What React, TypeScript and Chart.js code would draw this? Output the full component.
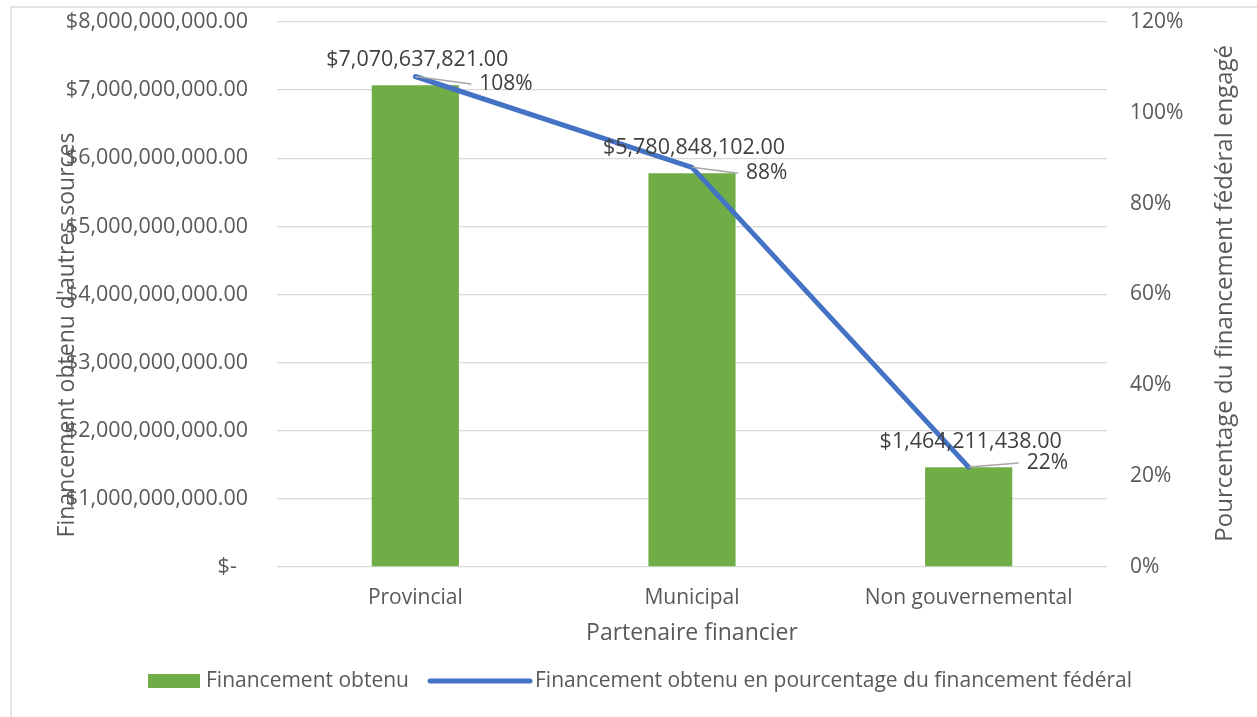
import { useEffect, useRef } from 'react';
import { Chart, registerables } from 'chart.js';

Chart.register(...registerables);

const categories = ['Provincial', 'Municipal', 'Non gouvernemental'];
const fundingObtained = [7070637821, 5780848102, 1464211438];
const fundingPctOfFederal = [108, 88, 22];
const seriesNames = [
  'Financement obtenu',
  'Financement obtenu en pourcentage du financement fédéral',
];
const leftAxisTitle = "Financement obtenu d'autres sources";
const rightAxisTitle = 'Pourcentage du financement fédéral engagé';
const xAxisTitle = 'Partenaire financier';

const FONT = "'Open Sans', sans-serif";
const AXIS_COLOR = '#595959';
const LABEL_COLOR = '#404040';
const GREEN = '#70AD47';
const BLUE = '#4472C4';

// label placement (style), per point: offset of the % label from the point
const PCT_OFFSETS: [number, number][] = [
  [64, 7.5],
  [54, 6],
  [58, -4],
];

const money = (v: number) =>
  '$' + v.toLocaleString('en-US', { minimumFractionDigits: 2, maximumFractionDigits: 2 });

const W = 1257;
const H = 717;
const AREA = { left: 277, right: 1107, top: 22, bottom: 567 };

const framePlugin = {
  id: 'frame',
  beforeDraw(chart: any) {
    const ctx = chart.ctx;
    ctx.save();
    ctx.fillStyle = '#ffffff';
    ctx.fillRect(0, 0, chart.width, chart.height);
    ctx.strokeStyle = '#d9d9d9';
    ctx.lineWidth = 1.5;
    ctx.beginPath();
    ctx.moveTo(11, chart.height);
    ctx.lineTo(11, 7);
    ctx.lineTo(chart.width, 7);
    ctx.stroke();
    ctx.restore();
  },
  afterDraw(chart: any) {
    const ctx = chart.ctx;
    const a = chart.chartArea;
    ctx.save();
    ctx.fillStyle = AXIS_COLOR;
    ctx.textAlign = 'center';
    ctx.textBaseline = 'middle';
    ctx.font = `23px ${FONT}`;
    ctx.fillText(xAxisTitle, (a.left + a.right) / 2, a.bottom + 66);
    ctx.save();
    ctx.translate(67, 335);
    ctx.rotate(-Math.PI / 2);
    ctx.fillText(leftAxisTitle, 0, 0);
    ctx.restore();
    ctx.save();
    ctx.translate(1225, 45);
    ctx.rotate(-Math.PI / 2);
    ctx.textAlign = 'right';
    ctx.font = `24px ${FONT}`;
    ctx.fillText(rightAxisTitle, 0, 0);
    ctx.restore();

    // legend
    const ds = chart.data.datasets;
    const ly = 681;
    ctx.font = `21px ${FONT}`;
    ctx.textAlign = 'left';
    ctx.fillStyle = ds[0].backgroundColor;
    ctx.fillRect(148, ly - 7, 52, 14);
    ctx.fillStyle = AXIS_COLOR;
    ctx.fillText(ds[0].label, 206, ly);
    ctx.strokeStyle = ds[1].borderColor;
    ctx.lineWidth = 5;
    ctx.lineCap = 'round';
    ctx.beginPath();
    ctx.moveTo(430, ly);
    ctx.lineTo(530, ly);
    ctx.stroke();
    ctx.fillText(ds[1].label, 535, ly);
    ctx.restore();
  },
};

const dataLabelsPlugin = {
  id: 'dataLabels',
  afterDatasetsDraw(chart: any) {
    const ctx = chart.ctx;
    ctx.save();
    ctx.fillStyle = LABEL_COLOR;
    ctx.textBaseline = 'middle';
    const barMeta = chart.getDatasetMeta(0);
    ctx.font = `21.5px ${FONT}`;
    barMeta.data.forEach((el: any, i: number) => {
      const v = chart.data.datasets[0].data[i] as number;
      ctx.textAlign = 'center';
      ctx.fillText(money(v), el.x + 2, el.y - 25);
    });
    ctx.font = `21px ${FONT}`;
    const lineMeta = chart.getDatasetMeta(1);
    lineMeta.data.forEach((el: any, i: number) => {
      const v = chart.data.datasets[1].data[i] as number;
      const [dx, dy] = PCT_OFFSETS[i];
      ctx.strokeStyle = '#a6a6a6';
      ctx.lineWidth = 1.5;
      ctx.beginPath();
      ctx.moveTo(el.x, el.y);
      ctx.lineTo(el.x + dx - 8, el.y + dy);
      ctx.stroke();
      ctx.textAlign = 'left';
      ctx.fillText(v + '%', el.x + dx, el.y + dy);
    });
    ctx.restore();
  },
};

const noPad = (s: any) => {
  s.paddingTop = 0;
  s.paddingBottom = 0;
};

export default function App() {
  const ref = useRef<HTMLCanvasElement | null>(null);

  useEffect(() => {
    document.body.style.margin = '0';
    if (!ref.current) return;
    const chart = new Chart(ref.current, {
      type: 'bar',
      data: {
        labels: categories,
        datasets: [
          {
            type: 'bar',
            label: seriesNames[0],
            data: fundingObtained,
            backgroundColor: GREEN,
            borderWidth: 0,
            barPercentage: 0.315,
            categoryPercentage: 1,
            yAxisID: 'y',
            order: 1,
          } as any,
          {
            type: 'line',
            label: seriesNames[1],
            data: fundingPctOfFederal,
            borderColor: BLUE,
            backgroundColor: BLUE,
            borderWidth: 5,
            borderCapStyle: 'round',
            tension: 0,
            pointRadius: 0,
            pointHoverRadius: 0,
            yAxisID: 'y1',
            order: 0,
          } as any,
        ],
      },
      options: {
        responsive: false,
        animation: false,
        layout: { padding: { top: AREA.top, left: 0, right: 0, bottom: 0 } },
        scales: {
          x: {
            grid: { display: false, drawTicks: false },
            border: { display: false },
            ticks: { color: AXIS_COLOR, font: { family: FONT, size: 21 }, padding: 18 },
            afterFit: (s: any) => {
              s.height = H - AREA.bottom;
              s.paddingLeft = 0;
              s.paddingRight = 0;
            },
          },
          y: {
            position: 'left',
            min: 0,
            max: 8000000000,
            ticks: {
              stepSize: 1000000000,
              color: AXIS_COLOR,
              font: { family: FONT, size: 21.5 },
              padding: 29,
              callback: (v: any) => (Number(v) === 0 ? '$-  ' : money(Number(v))),
            },
            grid: { color: '#d9d9d9', lineWidth: 1.3, drawTicks: false },
            border: { display: false },
            afterFit: (s: any) => {
              s.width = AREA.left;
              noPad(s);
            },
          },
          y1: {
            position: 'right',
            min: 0,
            max: 120,
            ticks: {
              stepSize: 20,
              color: AXIS_COLOR,
              font: { family: FONT, size: 21 },
              padding: 23,
              callback: (v: any) => v + '%',
            },
            grid: { display: false, drawTicks: false },
            border: { display: false },
            afterFit: (s: any) => {
              s.width = W - AREA.right;
              noPad(s);
            },
          },
        },
        plugins: {
          legend: { display: false },
          tooltip: { enabled: false },
        },
      },
      plugins: [framePlugin, dataLabelsPlugin],
    });
    return () => chart.destroy();
  }, []);

  return (
    <div style={{ width: W, height: H }}>
      <canvas ref={ref} width={W} height={H} style={{ width: W, height: H, display: 'block' }} />
    </div>
  );
}
